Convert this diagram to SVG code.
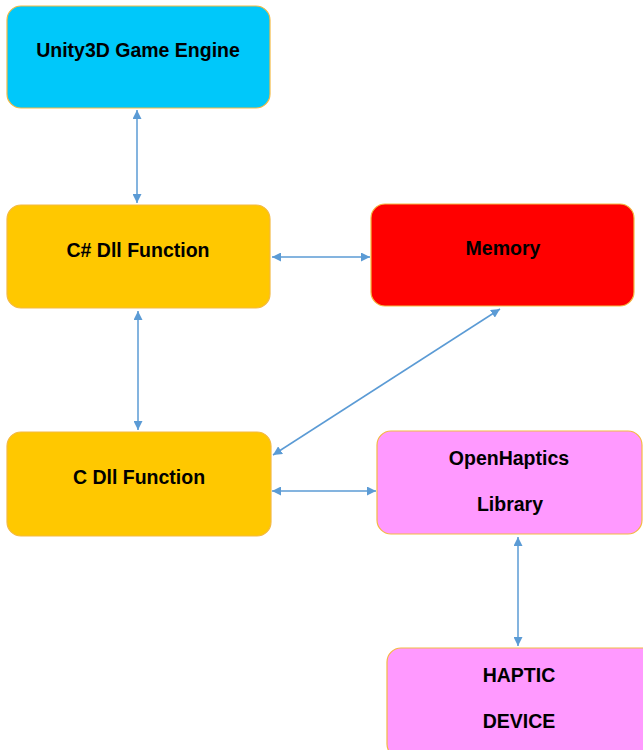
<svg xmlns="http://www.w3.org/2000/svg" width="643" height="750" viewBox="0 0 643 750">
<style>
.box{stroke:#F4B942;stroke-width:1.2}
.t{font-family:"Liberation Sans",Arial,sans-serif;font-weight:bold;font-size:19.5px;fill:#000;text-anchor:middle}
.c{stroke:#5B9BD5;stroke-width:1.5;fill:none;marker-start:url(#a);marker-end:url(#a)}
</style>
<defs>
<marker id="a" viewBox="0 0 10 10" refX="10" refY="5" markerWidth="9" markerHeight="9" markerUnits="userSpaceOnUse" orient="auto-start-reverse">
<path d="M0,0 L10,5 L0,10 z" fill="#5B9BD5"/>
</marker>
</defs>
<rect width="643" height="750" fill="#fff"/>
<g id="unity">
<rect class="box" x="7" y="6" width="263" height="102" rx="14" fill="#00C8FA"/>
<text class="t" x="138" y="57">Unity3D Game Engine</text>
</g>
<g id="csharp">
<rect class="box" x="7" y="205" width="263" height="103" rx="14" fill="#FFC800"/>
<text class="t" x="138" y="257">C# Dll Function</text>
</g>
<g id="memory">
<rect class="box" x="371" y="204" width="263" height="102" rx="14" fill="#FF0000"/>
<text class="t" x="503" y="255">Memory</text>
</g>
<g id="cdll">
<rect class="box" x="7" y="432" width="264" height="104" rx="14" fill="#FFC800"/>
<text class="t" x="139" y="484">C Dll Function</text>
</g>
<g id="openhaptics">
<rect class="box" x="377" y="431" width="265" height="103" rx="14" fill="#FF99FF"/>
<text class="t" x="509" y="465">OpenHaptics</text>
<text class="t" x="510" y="511">Library</text>
</g>
<g id="haptic">
<rect class="box" x="387" y="648" width="270" height="110" rx="14" fill="#FF99FF"/>
<text class="t" x="519" y="682">HAPTIC</text>
<text class="t" x="519" y="728">DEVICE</text>
</g>
<g id="connectors">
<line class="c" x1="137" y1="110" x2="137" y2="203"/>
<line class="c" x1="272" y1="257" x2="370" y2="257"/>
<line class="c" x1="138" y1="311" x2="138" y2="430"/>
<line class="c" x1="500" y1="309" x2="273" y2="455"/>
<line class="c" x1="272" y1="491" x2="376" y2="491"/>
<line class="c" x1="518" y1="537" x2="518" y2="646"/>
</g>
</svg>
